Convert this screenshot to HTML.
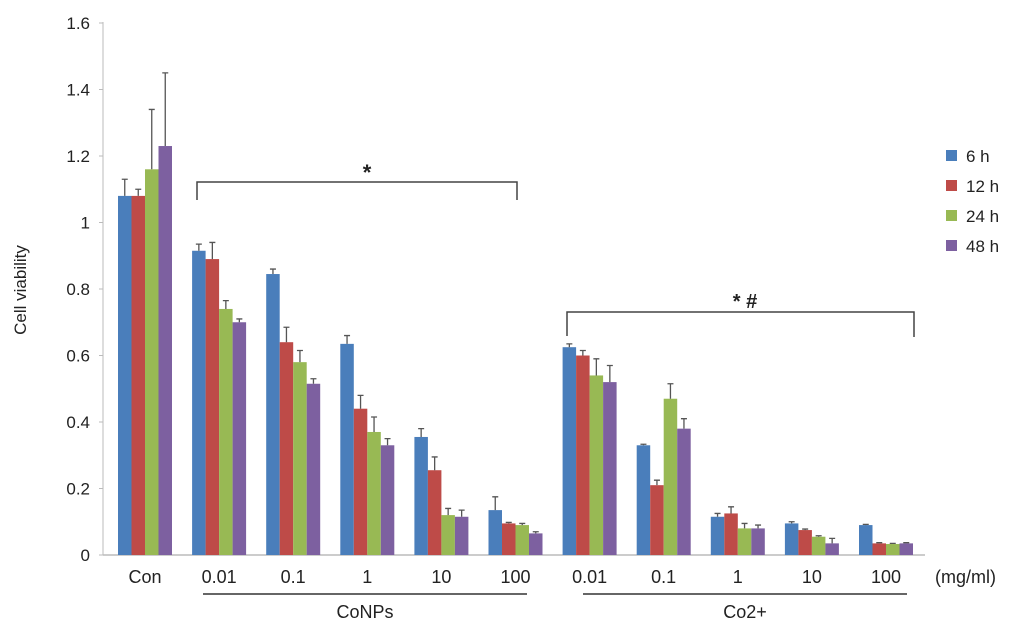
<!DOCTYPE html>
<html><head><meta charset="utf-8"><style>
body{margin:0;background:#fff}
svg text{font-family:"Liberation Sans",Arial,sans-serif;fill:#222}
</style></head><body>
<svg id="c" width="1030" height="632"></svg>
<script>
const categories=["Con","0.01","0.1","1","10","100","0.01","0.1","1","10","100"];
const series=["6 h","12 h","24 h","48 h"];
const v6=[1.08,0.915,0.845,0.635,0.355,0.135,0.625,0.33,0.115,0.095,0.09];
const v12=[1.08,0.89,0.64,0.44,0.255,0.095,0.60,0.21,0.125,0.075,0.035];
const v24=[1.16,0.74,0.58,0.37,0.12,0.09,0.54,0.47,0.08,0.055,0.033];
const v48=[1.23,0.70,0.515,0.33,0.115,0.065,0.52,0.38,0.08,0.035,0.035];
const e6=[0.05,0.02,0.015,0.025,0.025,0.04,0.01,0.003,0.01,0.005,0.002];
const e12=[0.02,0.05,0.045,0.04,0.04,0.003,0.015,0.015,0.02,0.003,0.002];
const e24=[0.18,0.025,0.035,0.045,0.02,0.005,0.05,0.045,0.015,0.003,0.002];
const e48=[0.22,0.01,0.015,0.02,0.02,0.005,0.05,0.03,0.01,0.015,0.002];
const yTicks=[0,0.2,0.4,0.6,0.8,1,1.2,1.4,1.6];
const colors=["#4a7ebb","#be4b48","#98b954","#7d60a0"];
const vals=[v6,v12,v24,v48], errs=[e6,e12,e24,e48];
const svg=document.getElementById('c');const NS="http://www.w3.org/2000/svg";
function mk(t,a,p){const e=document.createElementNS(NS,t);for(const k in a)e.setAttribute(k,a[k]);(p||svg).appendChild(e);return e;}
const y=v=>555-v*332.5;
const gx=i=>145+i*74.1;
const bw=13.5;
// y axis
let ax=mk('line',{x1:103,y1:22,x2:103,y2:555,stroke:'#bbb','stroke-width':1});

yTicks.forEach(t=>{
 let l=mk('line',{x1:99,y1:y(t),x2:103,y2:y(t),stroke:'#bbb'});
 
 let tx=mk('text',{x:90,y:y(t)+6,'text-anchor':'end','font-size':17});tx.textContent=String(t);
 
});
let xa=mk('line',{x1:103,y1:555,x2:925,y2:555,stroke:'#bbb','stroke-width':1.5});

let yl=mk('text',{x:0,y:0,transform:'translate(26,290) rotate(-90)','text-anchor':'middle','font-size':17});yl.textContent='Cell viability';

categories.forEach((c,i)=>{
 for(let s=0;s<4;s++){
  const x=gx(i)-2*bw+s*bw, v=vals[s][i], e=errs[s][i];
  let r=mk('rect',{x:x,y:y(v),width:bw,height:555-y(v),fill:colors[s]});
  
  const cx=x+bw/2;
  let el=mk('path',{d:`M${cx},${y(v)}V${y(v+e)}M${cx-3},${y(v+e)}H${cx+3}`,stroke:'#555','stroke-width':1.3,fill:'none'});
  
 }
 let t=mk('text',{x:gx(i),y:583,'text-anchor':'middle','font-size':18});t.textContent=c;
 
});
let u=mk('text',{x:935,y:583,'font-size':18});u.textContent='(mg/ml)';

[[203,527,365,'CoNPs'],[583,907,745,'Co2+']].forEach(g=>{
 let l=mk('line',{x1:g[0],y1:594,x2:g[1],y2:594,stroke:'#333','stroke-width':1.5});
 
 let t=mk('text',{x:g[2],y:618,'text-anchor':'middle','font-size':18});t.textContent=g[3];
 
});
let b1=mk('path',{d:'M197,200V182H517V200',stroke:'#444','stroke-width':1.5,fill:'none'});

let s1=mk('text',{x:367,y:180,'text-anchor':'middle','font-size':22,'font-weight':'bold'});s1.textContent='*';

let b2=mk('path',{d:'M567,336V312H914V337',stroke:'#444','stroke-width':1.5,fill:'none'});

let s2=mk('text',{x:745,y:308,'text-anchor':'middle','font-size':20,'font-weight':'bold'});s2.textContent='*  #';

series.forEach((s,i)=>{
 let r=mk('rect',{x:946,y:150+i*30,width:11,height:11,fill:colors[i]});
 
 let t=mk('text',{x:966,y:162+i*30,'font-size':17});t.textContent=s;
 
});
</script>
</body></html>
